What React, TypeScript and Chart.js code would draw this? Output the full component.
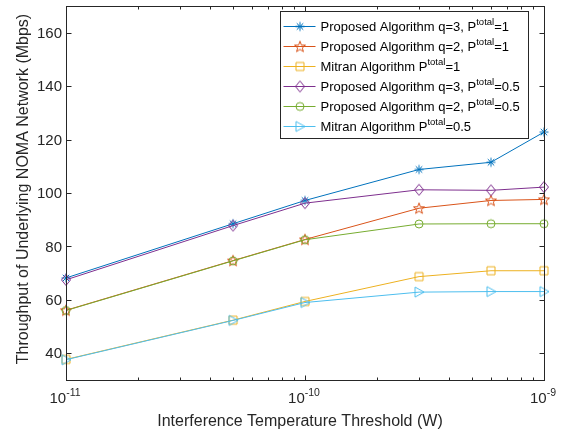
import React, { useEffect, useRef } from 'react';
import { Chart, registerables } from 'chart.js';

Chart.register(...registerables);

// ---------- data ----------
const thresholds = [1e-11, 5e-11, 1e-10, 3e-10, 6e-10, 1e-9];
const proposedQ3P1 = [68.2, 88.5, 97.2, 108.8, 111.5, 122.8];
const proposedQ2P1 = [56.1, 74.7, 82.6, 94.3, 97.2, 97.6];
const mitranP1 = [37.7, 52.4, 59.4, 68.7, 70.9, 70.9];
const proposedQ3P05 = [67.5, 87.8, 96.2, 101.2, 101.0, 102.2];
const proposedQ2P05 = [56.0, 74.6, 82.5, 88.4, 88.5, 88.5];
const mitranP05 = [37.6, 52.3, 59.0, 62.9, 63.1, 63.1];

const legendPrefixes = [
  'Proposed Algorithm q=3, P',
  'Proposed Algorithm q=2, P',
  'Mitran Algorithm P',
  'Proposed Algorithm q=3, P',
  'Proposed Algorithm q=2, P',
  'Mitran Algorithm P',
];
const legendSuperscript = 'total';
const legendSuffixes = ['=1', '=1', '=1', '=0.5', '=0.5', '=0.5'];

const yTicks = [40, 60, 80, 100, 120, 140, 160];
const xTickExponents = [-11, -10, -9];
const xTitle = 'Interference Temperature Threshold (W)';
const yTitle = 'Throughput of Underlying NOMA Network (Mbps)';

const colors = ['#0072BD', '#D95319', '#EDB120', '#7E2F8E', '#77AC30', '#4DBEEE'];
const markerKinds = ['asterisk', 'pentagram', 'square', 'diamond', 'circle', 'triangleRight'];
const seriesValues = [proposedQ3P1, proposedQ2P1, mitranP1, proposedQ3P05, proposedQ2P05, mitranP05];

const AXIS_COLOR = '#262626';
const FONT = '"Liberation Sans", Arial, Helvetica, sans-serif';

function makeMarker(kind: string, color: string): HTMLCanvasElement {
  const s = 16;
  const c = document.createElement('canvas');
  c.width = s;
  c.height = s;
  const g = c.getContext('2d')!;
  g.strokeStyle = color;
  g.lineWidth = 1;
  g.translate(s / 2, s / 2);
  g.beginPath();
  if (kind === 'asterisk') {
    const r = 4.5;
    const d = r * 0.72;
    g.moveTo(-r, 0); g.lineTo(r, 0);
    g.moveTo(0, -r); g.lineTo(0, r);
    g.moveTo(-d, -d); g.lineTo(d, d);
    g.moveTo(-d, d); g.lineTo(d, -d);
  } else if (kind === 'pentagram') {
    for (let i = 0; i < 10; i++) {
      const a = -Math.PI / 2 + (i * Math.PI) / 5;
      const rr = i % 2 ? 2.4 : 5.8;
      const px = Math.cos(a) * rr;
      const py = Math.sin(a) * rr + 0.5;
      if (i === 0) g.moveTo(px, py); else g.lineTo(px, py);
    }
    g.closePath();
  } else if (kind === 'square') {
    g.rect(-4, -4, 8, 8);
  } else if (kind === 'diamond') {
    g.moveTo(0, -5.5); g.lineTo(4.5, 0); g.lineTo(0, 5.5); g.lineTo(-4.5, 0);
    g.closePath();
  } else if (kind === 'circle') {
    g.arc(0, 0, 4, 0, Math.PI * 2);
  } else if (kind === 'triangleRight') {
    g.moveTo(-4, -5); g.lineTo(5, 0); g.lineTo(-4, 5);
    g.closePath();
  }
  g.stroke();
  return c;
}

function drawSupText(ctx: CanvasRenderingContext2D, x: number, baseline: number, base: string, sup: string, after: string, size: number, supSize: number, raise: number) {
  ctx.font = `${size}px ${FONT}`;
  ctx.textAlign = 'left';
  ctx.textBaseline = 'alphabetic';
  ctx.fillText(base, x, baseline);
  let cx = x + ctx.measureText(base).width;
  ctx.font = `${supSize}px ${FONT}`;
  ctx.fillText(sup, cx, baseline - raise);
  cx += ctx.measureText(sup).width;
  ctx.font = `${size}px ${FONT}`;
  ctx.fillText(after, cx, baseline);
}

function measureSup(ctx: CanvasRenderingContext2D, base: string, sup: string, size: number, supSize: number) {
  ctx.font = `${size}px ${FONT}`;
  const w1 = ctx.measureText(base).width;
  ctx.font = `${supSize}px ${FONT}`;
  const w2 = ctx.measureText(sup).width;
  return w1 + w2;
}

export default function App() {
  const ref = useRef<HTMLCanvasElement>(null);

  useEffect(() => {
    document.body.style.margin = '0';
    const canvas = ref.current!;
    const markers = markerKinds.map((k, i) => makeMarker(k, colors[i]));

    const axesPlugin = {
      id: 'matlabAxes',
      afterDatasetsDraw(chart: any) {
        const { ctx, chartArea: a, scales } = chart;
        const xs = scales.x;
        const ys = scales.y;
        const L = Math.round(a.left) + 0.5;
        const R = Math.round(a.right) + 0.5;
        const T = Math.round(a.top) + 0.5;
        const B = Math.round(a.bottom) + 0.5;
        ctx.save();
        ctx.strokeStyle = AXIS_COLOR;
        ctx.lineWidth = 1;
        ctx.beginPath();
        // y ticks
        yTicks.forEach((v) => {
          const y = Math.round(ys.getPixelForValue(v)) + 0.5;
          ctx.moveTo(L, y); ctx.lineTo(L + 5, y);
          ctx.moveTo(R, y); ctx.lineTo(R - 5, y);
        });
        // x major ticks
        xTickExponents.forEach((e) => {
          const x = Math.round(xs.getPixelForValue(Math.pow(10, e))) + 0.5;
          ctx.moveTo(x, B); ctx.lineTo(x, B - 5);
          ctx.moveTo(x, T); ctx.lineTo(x, T + 5);
        });
        // x minor ticks
        for (let k = 0; k < xTickExponents.length - 1; k++) {
          for (let m = 2; m <= 9; m++) {
            const x = Math.round(xs.getPixelForValue(m * Math.pow(10, xTickExponents[k]))) + 0.5;
            ctx.moveTo(x, B); ctx.lineTo(x, B - 3);
            ctx.moveTo(x, T); ctx.lineTo(x, T + 3);
          }
        }
        ctx.stroke();
        ctx.strokeRect(L, T, R - L, B - T);

        // tick labels
        ctx.fillStyle = AXIS_COLOR;
        ctx.font = `15px ${FONT}`;
        ctx.textAlign = 'right';
        ctx.textBaseline = 'middle';
        yTicks.forEach((v) => {
          ctx.fillText(String(v), a.left - 4, ys.getPixelForValue(v) + 1);
        });
        xTickExponents.forEach((e) => {
          const x = xs.getPixelForValue(Math.pow(10, e));
          const sup = String(e);
          const w = measureSup(ctx, '10', sup, 15, 10.5);
          drawSupText(ctx, x - w / 2 - 1, a.bottom + 23, '10', sup, '', 15, 10.5, 7);
        });

        // axis titles
        ctx.font = `16px ${FONT}`;
        ctx.textAlign = 'center';
        ctx.textBaseline = 'middle';
        ctx.fillText(xTitle, (a.left + a.right) / 2 - 5, a.bottom + 42);
        ctx.save();
        ctx.translate(24, (a.top + a.bottom) / 2 - 4);
        ctx.rotate(-Math.PI / 2);
        ctx.fillText(yTitle, 0, 0);
        ctx.restore();
        ctx.restore();
      },
      afterDraw(chart: any) {
        const { ctx, chartArea: a } = chart;
        const boxL = Math.round(a.right) - 264 + 0.5;
        const boxR = Math.round(a.right) - 16 + 0.5;
        const boxT = Math.round(a.top) + 5 + 0.5;
        const boxB = boxT + 127;
        ctx.save();
        ctx.fillStyle = '#ffffff';
        ctx.fillRect(boxL, boxT, boxR - boxL, boxB - boxT);
        ctx.strokeStyle = AXIS_COLOR;
        ctx.lineWidth = 1;
        ctx.strokeRect(boxL, boxT, boxR - boxL, boxB - boxT);
        legendPrefixes.forEach((pre, i) => {
          const cy = boxT + 14.5 + i * 20;
          ctx.strokeStyle = colors[i];
          ctx.beginPath();
          ctx.moveTo(boxL + 3, Math.round(cy) + 0.5);
          ctx.lineTo(boxL + 35, Math.round(cy) + 0.5);
          ctx.stroke();
          const m = markers[i];
          ctx.drawImage(m, Math.round(boxL + 19 - m.width / 2), Math.round(cy - m.height / 2) + 0.5);
          ctx.fillStyle = '#000000';
          drawSupText(ctx, boxL + 40, cy + 5, pre, legendSuperscript, legendSuffixes[i], 13, 9.5, 6);
        });
        ctx.restore();
      },
    };

    const chart = new Chart(canvas, {
      type: 'line',
      data: {
        datasets: seriesValues.map((vals, i) => ({
          label: legendPrefixes[i] + legendSuperscript + legendSuffixes[i],
          data: thresholds.map((x, j) => ({ x, y: vals[j] })),
          borderColor: colors[i],
          backgroundColor: colors[i],
          borderWidth: 1,
          pointStyle: markers[i] as any,
          pointRadius: 5,
          pointHoverRadius: 5,
          tension: 0,
          fill: false,
          clip: false as any,
          order: seriesValues.length - i,
        })),
      },
      options: {
        animation: false,
        responsive: false,
        devicePixelRatio: 1,
        events: [],
        layout: { padding: { left: 66, right: 25, top: 4, bottom: 58 } },
        plugins: { legend: { display: false }, tooltip: { enabled: false }, title: { display: false } },
        scales: {
          x: { type: 'logarithmic', min: 1e-11, max: 1e-9, display: false },
          y: { type: 'linear', min: 30, max: 170, display: false },
        },
      },
      plugins: [axesPlugin],
    });
    return () => chart.destroy();
  }, []);

  return (
    <div style={{ width: 569, height: 438, background: '#ffffff' }}>
      <canvas ref={ref} width={569} height={438} />
    </div>
  );
}
